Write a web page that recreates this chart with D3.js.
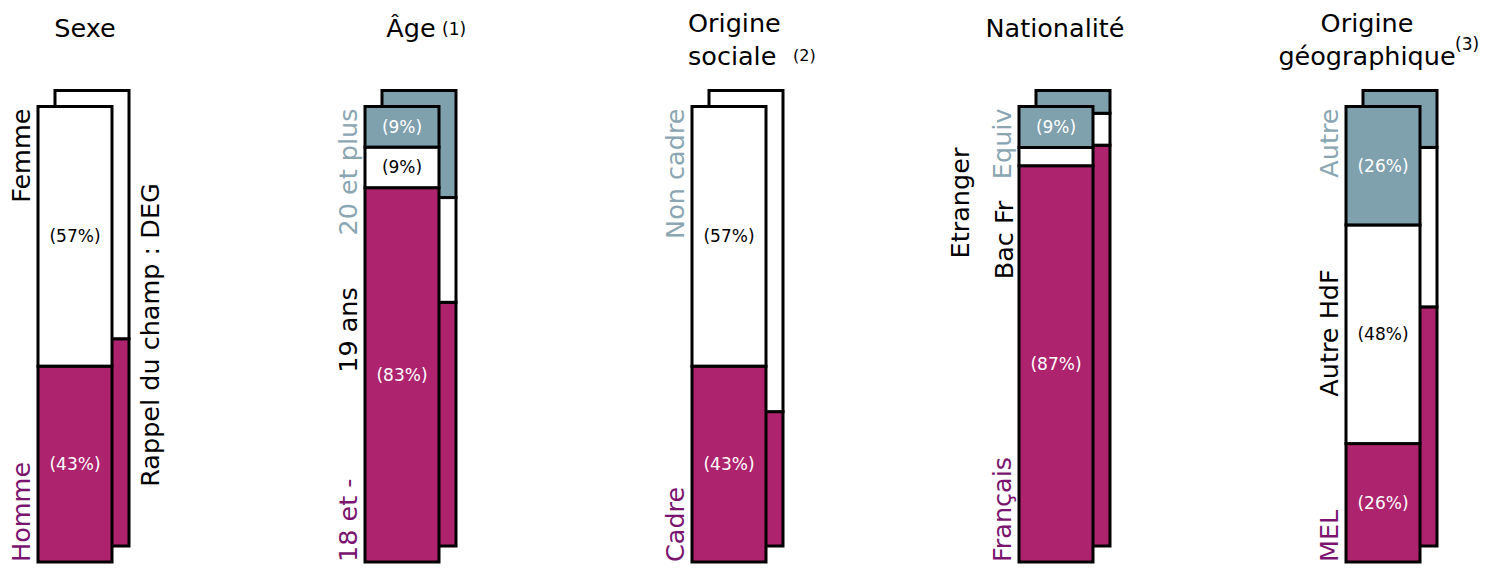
<!DOCTYPE html>
<html><head><meta charset="utf-8">
<script src="https://cdn.jsdelivr.net/npm/d3@7"></script>
<style>body{margin:0;background:#fff} svg{display:block}</style>
</head><body>
<script>
// ---------- DATA ----------
const groupTitles = [["Sexe"], ["Âge"], ["Origine", "sociale"], ["Nationalité"], ["Origine", "géographique"]];
const titleNotes = ["", "(1)", "(2)", "", "(3)"];
// segments listed bottom → top
const segmentNames = [
  ["Homme", "Femme"],
  ["18 et -", "19 ans", "20 et plus"],
  ["Cadre", "Non cadre"],
  ["Français", "Etranger\nBac Fr", "Equiv"],
  ["MEL", "Autre HdF", "Autre"]
];
// population shares (front bars, labelled)
const groupValues = [
  [43, 57],
  [83, 9, 9],
  [43, 57],
  [87, 4, 9],
  [26, 48, 26]
];
// "Rappel du champ : DEG" reference shares (back bars)
const champValues = [
  [45.5, 54.5],
  [53.5, 23, 23.5],
  [29.5, 70.5],
  [88, 7, 5],
  [52.5, 35, 12.5]
];
const champLabel = "Rappel du champ : DEG";

// ---------- STYLE / LAYOUT ----------
const W = 1491, H = 569;
const MAG = "#AE236E", GRAY = "#7FA0AD", WHITE = "#FFFFFF";
const segFill = [MAG, WHITE, GRAY];
const TXT_MAG = "#7A146F", TXT_GRAY = "#89A6B2";
const nameColors = [
  [TXT_MAG, "#000"],
  [TXT_MAG, "#000", TXT_GRAY],
  [TXT_MAG, TXT_GRAY],
  [TXT_MAG, "#000", TXT_GRAY],
  [TXT_MAG, "#000", TXT_GRAY]
];
const barW = 74, backDX = 17, backDY = -16;
const FONT = "'DejaVu Sans', Verdana, sans-serif";

const svg = d3.select("body").append("svg").attr("width", W).attr("height", H);

const x = d3.scaleLinear().domain([0, groupTitles.length - 1]).range([38, 38 + 4 * 327]);
const yFrontRange = [562, 106.5];

groupTitles.forEach((title, gi) => {
  const g = svg.append("g");
  const gx = x(gi);
  const fTot = d3.sum(groupValues[gi]);
  const bTot = d3.sum(champValues[gi]);
  const yF = d3.scaleLinear().domain([0, fTot]).range(yFrontRange);
  const yB = d3.scaleLinear().domain([0, bTot]).range(yFrontRange.map(v => v + backDY));

  // back bar
  const bStack = d3.cumsum(champValues[gi]);
  g.selectAll("rect.back").data(champValues[gi]).join("rect")
    .attr("class", "back")
    .attr("x", gx + backDX).attr("width", barW)
    .attr("y", (d, i) => yB(bStack[i]))
    .attr("height", (d, i) => yB(bStack[i] - d) - yB(bStack[i]))
    .attr("fill", (d, i) => segFill[i])
    .attr("stroke", "#000").attr("stroke-width", 3);

  // front bar
  const fStack = d3.cumsum(groupValues[gi]);
  g.selectAll("rect.front").data(groupValues[gi]).join("rect")
    .attr("class", "front")
    .attr("x", gx).attr("width", barW)
    .attr("y", (d, i) => yF(fStack[i]))
    .attr("height", (d, i) => yF(fStack[i] - d) - yF(fStack[i]))
    .attr("fill", (d, i) => segFill[i])
    .attr("stroke", "#000").attr("stroke-width", 3);

  // percentage labels
  g.selectAll("text.pct").data(groupValues[gi]).join("text")
    .attr("class", "pct")
    .attr("x", gx + barW / 2)
    .attr("y", (d, i) => yF(fStack[i] - d / 2))
    .attr("text-anchor", "middle").attr("dominant-baseline", "central")
    .attr("font-family", FONT).attr("font-size", 17)
    .attr("fill", (d, i) => segFill[i] === WHITE ? "#000" : "#fff")
    .text(d => d >= 5 ? `(${d}%)` : "");

  // title
  const tx = [gx + 47, gx + 46, gx - 4, gx + 36, gx + 21][gi];
  const anchor = gi === 2 ? "start" : "middle";
  const tBase = title.length === 1 ? [37] : [32, 65];
  title.forEach((line, li) => {
    g.append("text")
      .attr("x", tx).attr("y", tBase[li])
      .attr("text-anchor", anchor)
      .attr("font-family", FONT).attr("font-size", 25.5).attr("fill", "#000")
      .text(line);
    if (li === title.length - 1 && titleNotes[gi]) {
      const sup = g.append("text").attr("font-family", FONT).attr("fill", "#000").text(titleNotes[gi]);
      if (gi === 1) sup.attr("x", gx + 77).attr("y", 35).attr("font-size", 17);
      if (gi === 2) sup.attr("x", gx + 101).attr("y", 61).attr("font-size", 16);
      if (gi === 4) sup.attr("x", gx + 109).attr("y", 50).attr("font-size", 17);
    }
  });

  // rotated category labels
  const names = segmentNames[gi];
  const n = names.length;
  names.forEach((name, i) => {
    const lines = name.split("\n");
    let anchorL, yy;
    if (i === 0) { anchorL = "start"; yy = yF(0); }
    else if (i === n - 1) { anchorL = "end"; yy = yF(fTot) + 2; }
    else { anchorL = "middle"; yy = [0, 330, 0, 240, 333][gi]; }
    lines.forEach((ln, li) => {
      let bx = gx - 8, by = yy, a = anchorL;
      if (lines.length === 2) {
        // Nationalité: "Etranger" / "Bac Fr"
        if (li === 0) { bx = gx - 50; by = 203; a = "middle"; }
        else { bx = gx - 6; by = 240; a = "middle"; }
      }
      g.append("text")
        .attr("transform", `translate(${bx},${by}) rotate(-90)`)
        .attr("text-anchor", a)
        .attr("font-family", FONT).attr("font-size", 25.5)
        .attr("fill", nameColors[gi][i])
        .text(ln);
    });
  });

  if (gi === 0) {
    g.append("text")
      .attr("transform", `translate(${gx + barW + backDX + 30},${335}) rotate(-90)`)
      .attr("text-anchor", "middle")
      .attr("font-family", FONT).attr("font-size", 25.5).attr("fill", "#000")
      .text(champLabel);
  }
});
</script>
</body></html>
